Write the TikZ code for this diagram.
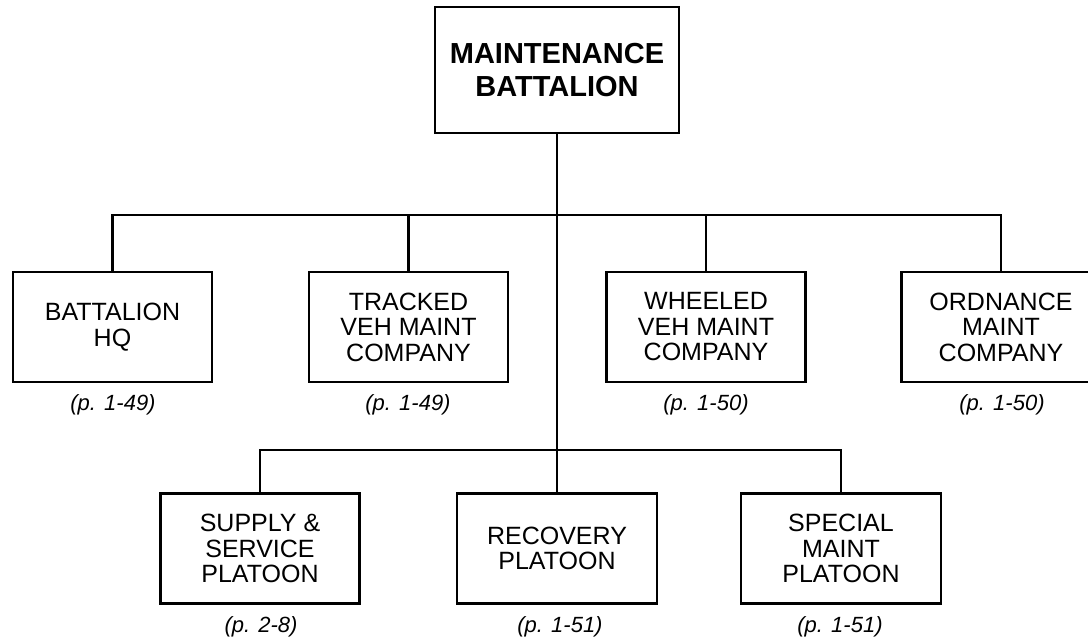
\documentclass[tikz,border=0pt]{standalone}
\usepackage{fontspec}
\setmainfont{Liberation Sans}
\begin{document}
\begin{tikzpicture}[x=1pt,y=-1pt,
  unitbox/.style={draw=black, line width=2.8pt, minimum width=199pt, minimum height=110pt, inner sep=0pt, align=center, font=\fontsize{25}{25.5}\selectfont},
  topbox/.style={draw=black, line width=2.8pt, minimum width=244pt, minimum height=126pt, inner sep=0pt, align=center, font=\bfseries\fontsize{29}{33}\selectfont},
  pageref/.style={font=\itshape\fontsize{22}{24}\selectfont, inner sep=0pt},
  link/.style={line width=2.8pt}]
\useasboundingbox (0,0) rectangle (1088,640);
\node[topbox] (mb) at (557,70) {MAINTENANCE\\BATTALION};
% upper row
\node[unitbox] (hq) at (112.5,327) {BATTALION\\HQ};
\node[unitbox] (tr) at (408.5,327) {TRACKED\\VEH MAINT\\COMPANY};
\node[unitbox] (wh) at (706,327) {WHEELED\\VEH MAINT\\COMPANY};
\node[unitbox] (od) at (1001,327) {ORDNANCE\\MAINT\\COMPANY};
\node[pageref] (hqp) at (113,405) {(p. 1-49)};
\node[pageref] (trp) at (408,405) {(p. 1-49)};
\node[pageref] (whp) at (706,405) {(p. 1-50)};
\node[pageref] (odp) at (1002,405) {(p. 1-50)};
% lower row
\node[unitbox] (sp) at (260,548.5) {SUPPLY \&\\SERVICE\\PLATOON};
\node[unitbox, minimum width=200pt] (rc) at (557,548.5) {RECOVERY\\PLATOON};
\node[unitbox, minimum width=200pt] (sm) at (841,548.5) {SPECIAL\\MAINT\\PLATOON};
\node[pageref] (spp) at (261,627) {(p. 2-8)};
\node[pageref] (rcp) at (560,627) {(p. 1-51)};
\node[pageref] (smp) at (840,627) {(p. 1-51)};
% connectors
\coordinate (ju) at (557,215);
\coordinate (jl) at (557,450);
\draw[link] (mb.south) -- (rc.north);
\draw[link] (hq.north) |- (ju) -| (od.north);
\draw[link] (tr.north) -- (tr.north |- ju);
\draw[link] (wh.north) -- (wh.north |- ju);
\draw[link] (sp.north) |- (jl) -| (sm.north);
\end{tikzpicture}
\end{document}
